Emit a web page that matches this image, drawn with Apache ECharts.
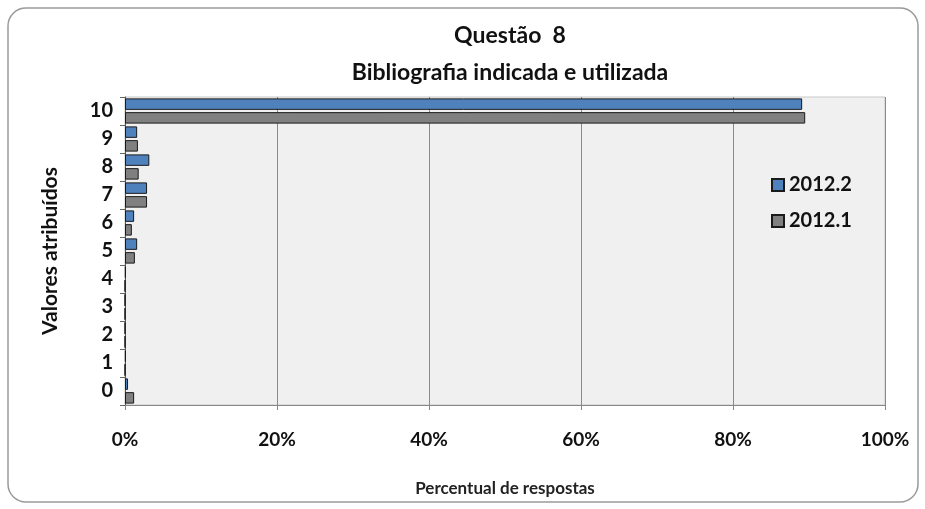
<!DOCTYPE html>
<html>
<head>
<meta charset="utf-8">
<script src="https://cdn.jsdelivr.net/npm/echarts@6/dist/echarts.min.js"></script>
<style>
  html, body { margin: 0; padding: 0; background: #fff; }
  #chart { width: 925px; height: 509px; }
</style>
</head>
<body>
<div id="chart"></div>
<script>
// dados
var categorias = ['0', '1', '2', '3', '4', '5', '6', '7', '8', '9', '10'];
var serie2012_2 = [0.4, 0.1, 0, 0, 0.1, 1.6, 1.2, 2.9, 3.2, 1.6, 89.1];
var serie2012_1 = [1.2, 0, 0, 0, 0, 1.3, 0.9, 2.9, 1.8, 1.7, 89.5];
var ticksX = [0, 20, 40, 60, 80, 100];

var fonte = 'Lato';
var myChart = echarts.init(document.getElementById('chart'));

myChart.setOption({
  backgroundColor: '#fff',
  textStyle: { fontFamily: fonte },
  graphic: [{
    type: 'rect',
    shape: { x: 8, y: 8, width: 910, height: 494, r: 18 },
    style: { fill: 'none', stroke: '#9a9a9a', lineWidth: 1.5 },
    z: -10
  }],
  title: {
    text: 'Questão  8\nBibliografia indicada e utilizada',
    left: 505,
    top: 12,
    textAlign: 'center',
    textStyle: { fontFamily: fonte, fontSize: 23, fontWeight: 'bold', color: '#111', lineHeight: 37 }
  },
  legend: {
    orient: 'vertical',
    left: 766,
    top: 170,
    icon: 'rect',
    itemWidth: 12,
    itemHeight: 12,
    itemGap: 16,
    data: ['2012.2', '2012.1'],
    textStyle: { fontFamily: fonte, fontSize: 20, fontWeight: 'bold', color: '#111' }
  },
  grid: {
    left: 125,
    right: 40,
    top: 97,
    bottom: 104,
    show: true,
    backgroundColor: '#f0f0f0',
    borderColor: '#c8c8c8',
    borderWidth: 1
  },
  xAxis: {
    type: 'value',
    min: 0,
    max: 100,
    interval: 20,
    name: 'Percentual de respostas',
    nameLocation: 'middle',
    nameGap: 75,
    nameTextStyle: { fontFamily: fonte, fontSize: 17, fontWeight: 'bold', color: '#222' },
    axisLine: { show: true, lineStyle: { color: '#888' } },
    axisTick: { show: true, length: 5, lineStyle: { color: '#888' } },
    axisLabel: {
      margin: 25,
      fontFamily: fonte, fontSize: 19, fontWeight: 'bold', color: '#111',
      formatter: function (v) { return ticksX.indexOf(v) >= 0 ? v + '%' : ''; }
    },
    splitLine: { show: true, lineStyle: { color: '#8a8a8a', width: 1 } }
  },
  yAxis: {
    type: 'category',
    data: categorias,
    name: 'Valores atribuídos',
    nameLocation: 'middle',
    nameGap: 64,
    nameRotate: 90,
    nameTextStyle: { fontFamily: fonte, fontSize: 21, fontWeight: 'bold', color: '#111' },
    axisLine: { show: true, lineStyle: { color: '#555' } },
    axisTick: { show: true, length: 5, lineStyle: { color: '#666' } },
    axisLabel: { margin: 12, fontFamily: fonte, fontSize: 20, fontWeight: 'bold', color: '#111' }
  },
  series: [{
    name: '2012.2',
    type: 'bar',
    data: serie2012_2,
    barGap: '20%',
    barCategoryGap: '10%',
    itemStyle: { color: '#4f81bd', borderColor: '#1a1a1a', borderWidth: 1 }
  }, {
    name: '2012.1',
    type: 'bar',
    data: serie2012_1,
    itemStyle: { color: '#808080', borderColor: '#1a1a1a', borderWidth: 1 }
  }]
});
</script>
</body>
</html>
